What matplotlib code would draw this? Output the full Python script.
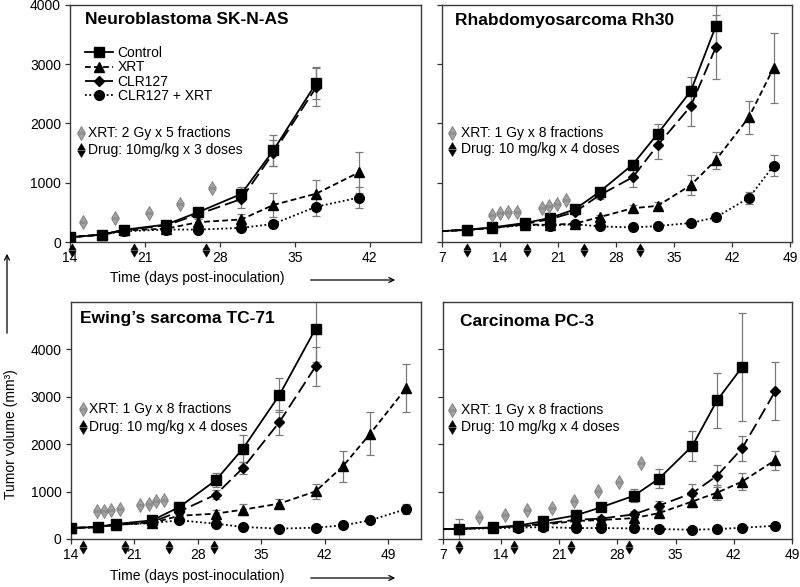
import numpy as np
import matplotlib
matplotlib.use('Agg')
import matplotlib.pyplot as plt
import matplotlib.transforms as mtransforms
from matplotlib.path import Path

plt.rcParams['font.family'] = ['Liberation Sans', 'DejaVu Sans']
nan = np.nan

series_names = ["Control", "XRT", "CLR127", "CLR127 + XRT"]

# ---------------- Panel 1: Neuroblastoma SK-N-AS ----------------
nb_days = [14, 17, 19, 23, 26, 30, 33, 37, 41]
nb_control = [80, 125, 205, 295, 505, 810, 1545, 2680, nan]
nb_control_err = [0, 0, 20, 30, 40, 120, 265, 270, nan]
nb_xrt = [80, 125, 195, 225, 335, 380, 625, 815, 1175]
nb_xrt_err = [0, 0, 15, 20, 50, 95, 195, 235, 350]
nb_clr = [80, 125, 200, 280, 470, 725, 1500, 2610, nan]
nb_clr_err = [0, 0, 15, 25, 40, 145, 220, 320, nan]
nb_combo = [80, 125, 180, 210, 210, 238, 305, 595, 750]
nb_combo_err = [0, 0, 10, 20, 20, 30, 45, 150, 170]
nb_xrt_days = [15.2, 18.2, 21.4, 24.3, 27.3]
nb_xrt_marks = [335, 410, 495, 635, 915]
nb_drug_days = [14.2, 20.0, 26.7]

# ---------------- Panel 2: Rhabdomyosarcoma Rh30 ----------------
rh_days = [6, 10, 13, 17, 20, 23, 26, 30, 33, 37, 40, 44, 47]
rh_control = [175, 208, 245, 320, 405, 550, 846, 1308, 1827, 2548, 3638, nan, nan]
rh_control_err = [0, 20, 20, 30, 40, 50, 70, 70, 170, 245, 360, nan, nan]
rh_xrt = [175, 205, 235, 295, 290, 310, 420, 570, 610, 960, 1380, 2105, 2944]
rh_xrt_err = [0, 10, 10, 20, 20, 20, 30, 60, 60, 170, 140, 280, 590]
rh_clr = [175, 205, 240, 305, 385, 505, 790, 1093, 1634, 2294, 3283, nan, nan]
rh_clr_err = [0, 20, 20, 30, 40, 40, 70, 160, 240, 340, 540, nan, nan]
rh_combo = [175, 205, 235, 290, 276, 300, 264, 245, 270, 321, 415, 745, 1291]
rh_combo_err = [0, 10, 10, 15, 15, 20, 20, 20, 20, 30, 60, 100, 185]
rh_xrt_days = [13.0, 14.0, 15.0, 16.0, 19.0, 19.9, 20.9, 22.0]
rh_xrt_marks = [462, 490, 501, 501, 575, 602, 648, 716]
rh_drug_days = [10.0, 17.3, 24.1, 30.9]

# ---------------- Panel 3: Ewing's sarcoma TC-71 ----------------
ew_days = [14, 17, 19, 23, 26, 30, 33, 37, 41, 44, 47, 51]
ew_control = [232, 254, 317, 393, 676, 1239, 1909, 3036, 4440, nan, nan, nan]
ew_control_err = [20, 20, 30, 40, 110, 150, 275, 364, 707, nan, nan, nan]
ew_xrt = [232, 250, 300, 340, 490, 535, 619, 746, 1006, 1535, 2220, 3192]
ew_xrt_err = [20, 20, 25, 30, 40, 80, 120, 100, 160, 330, 450, 510]
ew_clr = [232, 250, 300, 360, 580, 937, 1500, 2465, 3643, nan, nan, nan]
ew_clr_err = [20, 20, 25, 30, 80, 100, 130, 262, 407, nan, nan, nan]
ew_combo = [232, 250, 300, 340, 393, 323, 254, 218, 239, 288, 393, 634]
ew_combo_err = [20, 20, 20, 30, 40, 30, 30, 20, 20, 25, 40, 100]
ew_xrt_days = [16.9, 17.7, 18.5, 19.4, 21.7, 22.6, 23.4, 24.3]
ew_xrt_marks = [583, 583, 619, 634, 725, 746, 795, 831]
ew_drug_days = [15.4, 20.0, 24.8, 29.8]

# ---------------- Panel 4: Carcinoma PC-3 ----------------
pc_days = [5, 9, 13, 16, 19, 23, 26, 30, 33, 37, 40, 43, 47]
pc_control = [200, 217, 245, 281, 372, 498, 667, 913, 1272, 1960, 2926, 3626, nan]
pc_control_err = [0, 210, 30, 40, 40, 50, 80, 140, 200, 320, 575, 1140, nan]
pc_xrt = [200, 215, 240, 265, 300, 380, 400, 441, 546, 790, 979, 1210, 1666]
pc_xrt_err = [0, 20, 20, 20, 30, 30, 50, 60, 80, 110, 150, 180, 200]
pc_clr = [200, 215, 240, 270, 320, 405, 430, 520, 706, 966, 1336, 1912, 3122]
pc_clr_err = [0, 20, 20, 20, 30, 40, 60, 80, 90, 190, 230, 265, 610]
pc_combo = [200, 210, 225, 240, 250, 231, 231, 223, 210, 195, 210, 237, 279]
pc_combo_err = [0, 10, 10, 10, 10, 10, 10, 10, 10, 10, 10, 15, 20]
pc_xrt_days = [11.4, 14.5, 17.1, 20.1, 22.8, 25.7, 28.2, 30.9]
pc_xrt_marks = [454, 496, 616, 651, 811, 1015, 1210, 1597]
pc_drug_days = [9.0, 15.6, 22.4, 29.4]

titles = ["Neuroblastoma SK-N-AS", "Rhabdomyosarcoma Rh30",
          "Ewing\u2019s sarcoma TC-71", "Carcinoma PC-3"]
xrt_texts = ["XRT: 2 Gy x 5 fractions", "XRT: 1 Gy x 8 fractions",
             "XRT: 1 Gy x 8 fractions", "XRT: 1 Gy x 8 fractions"]
drug_texts = ["Drug: 10mg/kg x 3 doses", "Drug: 10 mg/kg x 4 doses",
              "Drug: 10 mg/kg x 4 doses", "Drug: 10 mg/kg x 4 doses"]

W, H = 800, 587
fig = plt.figure(figsize=(W / 100, H / 100), dpi=100)
PX = mtransforms.Affine2D().scale(1 / W, -1 / H).translate(0, 1) + fig.transFigure


def add_axes(l, t, r, b):
    return fig.add_axes([l / W, 1 - b / H, (r - l) / W, (b - t) / H])


# double-arrow glyph marker (up triangle over down triangle)
gv = [(-0.55, 0.07), (0.55, 0.07), (0, 1), (0, 0),
      (-0.55, -0.07), (0.55, -0.07), (0, -1), (0, 0)]
gc = [Path.MOVETO, Path.LINETO, Path.LINETO, Path.CLOSEPOLY] * 2
glyph = Path(gv, gc)

styles = [
    dict(color='black', lw=1.3, ls='-', marker='s', ms=6.5),
    dict(color='black', lw=1.3, ls=(0, (3.2, 1.8)), marker='^', ms=7),
    dict(color='black', lw=1.3, ls=(0, (7, 2.8)), marker='D', ms=5),
    dict(color='black', lw=1.3, ls=(0, (1, 1.4)), marker='o', ms=7),
]

panels = [
    dict(box=(70, 5, 421, 242), xlim=(14, 46.8), ylim=(0, 4000),
         xticks=[14, 21, 28, 35, 42], yticks=[0, 1000, 2000, 3000, 4000], ylabels=True,
         days=nb_days,
         data=[(nb_control, nb_control_err), (nb_xrt, nb_xrt_err), (nb_clr, nb_clr_err), (nb_combo, nb_combo_err)],
         xd=nb_xrt_days, xm=nb_xrt_marks, dd=nb_drug_days,
         title_xy=(85, 20), ann=(81, 88, 133, 150)),
    dict(box=(442, 5, 792, 242), xlim=(7, 49.2), ylim=(0, 4000),
         xticks=[7, 14, 21, 28, 35, 42, 49], yticks=[0, 1000, 2000, 3000, 4000], ylabels=False,
         days=rh_days,
         data=[(rh_control, rh_control_err), (rh_xrt, rh_xrt_err), (rh_clr, rh_clr_err), (rh_combo, rh_combo_err)],
         xd=rh_xrt_days, xm=rh_xrt_marks, dd=rh_drug_days,
         title_xy=(455, 20), ann=(452, 461, 133, 149)),
    dict(box=(70.5, 302, 421, 539), xlim=(14, 52.6), ylim=(0, 5000),
         xticks=[14, 21, 28, 35, 42, 49], yticks=[0, 1000, 2000, 3000, 4000], ylabels=True,
         days=ew_days,
         data=[(ew_control, ew_control_err), (ew_xrt, ew_xrt_err), (ew_clr, ew_clr_err), (ew_combo, ew_combo_err)],
         xd=ew_xrt_days, xm=ew_xrt_marks, dd=ew_drug_days,
         title_xy=(80, 319), ann=(83, 89, 409, 427)),
    dict(box=(442.7, 302, 792, 539), xlim=(7, 49), ylim=(0, 5000),
         xticks=[7, 14, 21, 28, 35, 42, 49], yticks=[0, 1000, 2000, 3000, 4000], ylabels=False,
         days=pc_days,
         data=[(pc_control, pc_control_err), (pc_xrt, pc_xrt_err), (pc_clr, pc_clr_err), (pc_combo, pc_combo_err)],
         xd=pc_xrt_days, xm=pc_xrt_marks, dd=pc_drug_days,
         title_xy=(460, 322), ann=(452, 461, 410, 427)),
]

FS = 10
legend_handles = None
for i, p in enumerate(panels):
    ax = add_axes(*p['box'])
    ax.set_xlim(*p['xlim'])
    ax.set_ylim(*p['ylim'])
    ax.set_xticks(p['xticks'])
    ax.set_yticks(p['yticks'])
    if not p['ylabels']:
        ax.set_yticklabels([])
    ax.tick_params(direction='out', length=3.5, width=0.9, labelsize=FS, pad=3, colors='#333333',
                   labelcolor='black')
    for s in ax.spines.values():
        s.set_color('#3a3a3a')
        s.set_linewidth(1.0)
    handles = []
    for (vals, errs), st in zip(p['data'], styles):
        ax.errorbar(p['days'], vals, yerr=errs, fmt='none', ecolor='#7a7a7a',
                    elinewidth=0.9, capsize=3, capthick=0.9, zorder=2)
        h, = ax.plot(p['days'], vals, zorder=3, **st)
        handles.append(h)
    if legend_handles is None:
        legend_handles = handles
    # XRT fraction markers
    ax.plot(p['xd'], p['xm'], ls='none', marker=glyph, ms=10, mfc='#a2a2a2',
            mec='#7c7c7c', mew=0.6, zorder=4)
    # Drug dose markers below axis
    trans = mtransforms.blended_transform_factory(ax.transData, ax.transAxes)
    ax.plot(p['dd'], [-0.033] * len(p['dd']), ls='none', marker=glyph, ms=9.5,
            mfc='black', mec='black', mew=0.4, transform=trans, clip_on=False, zorder=5)
    # title
    fig.text(p['title_xy'][0], p['title_xy'][1], titles[i], transform=PX, fontsize=12.5,
             fontweight='bold', ha='left', va='center')
    gx, tx, y1, y2 = p['ann']
    fig.lines.append(plt.Line2D([gx], [y1], transform=PX, ls='none', marker=glyph, ms=10,
                                mfc='#a2a2a2', mec='#7c7c7c', mew=0.6))
    fig.lines.append(plt.Line2D([gx], [y2], transform=PX, ls='none', marker=glyph, ms=10,
                                mfc='black', mec='black', mew=0.4))
    fig.text(tx, y1, xrt_texts[i], transform=PX, fontsize=FS, ha='left', va='center')
    fig.text(tx, y2, drug_texts[i], transform=PX, fontsize=FS, ha='left', va='center')
    if i == 0:
        ax.legend(legend_handles, series_names, loc='upper left', bbox_to_anchor=(85, 46),
                  bbox_transform=PX, frameon=False, fontsize=FS, handlelength=2.0,
                  handletextpad=0.35, labelspacing=0.03, borderpad=0, borderaxespad=0)

# x-axis labels with arrows
for ylab in (278, 576):
    fig.text(197, ylab, "Time (days post-inoculation)", transform=PX, fontsize=FS,
             ha='center', va='center')
    fig.add_artist(matplotlib.patches.FancyArrowPatch((308, ylab + 2), (398, ylab + 2),
                   transform=PX, arrowstyle='->', mutation_scale=9, lw=0.9, color='black'))

# y-axis label with arrow
fig.text(11, 434, "Tumor volume (mm\u00b3)", transform=PX, fontsize=FS, rotation=90,
         ha='center', va='center')
fig.add_artist(matplotlib.patches.FancyArrowPatch((7, 336), (7, 251), transform=PX,
               arrowstyle='->', mutation_scale=9, lw=0.9, color='black'))

fig.savefig('out.png', dpi=100)
